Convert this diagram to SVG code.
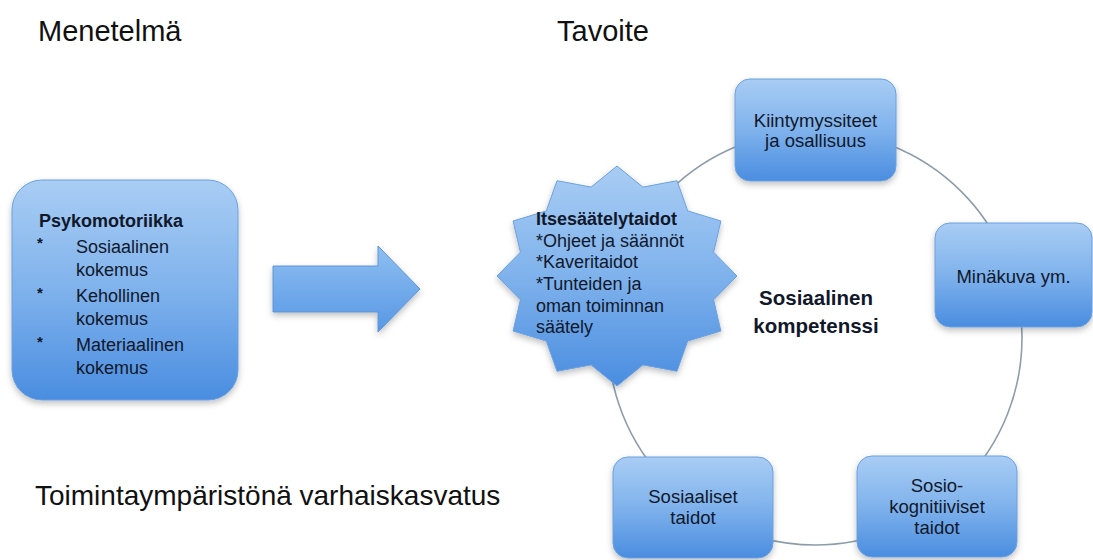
<svg xmlns="http://www.w3.org/2000/svg" width="1093" height="560" viewBox="0 0 1093 560">
  <defs>
    <linearGradient id="blueGrad" x1="0" y1="0" x2="0" y2="1">
      <stop offset="0" stop-color="#a9cdf4"/>
      <stop offset="0.5" stop-color="#7fb2ec"/>
      <stop offset="1" stop-color="#4a8de0"/>
    </linearGradient>
    <linearGradient id="arrowGrad" x1="0" y1="0" x2="0" y2="1">
      <stop offset="0" stop-color="#8fbff2"/>
      <stop offset="1" stop-color="#5797e4"/>
    </linearGradient>
    <filter id="shadow" x="-10%" y="-10%" width="120%" height="125%">
      <feDropShadow dx="0" dy="3" stdDeviation="3" flood-color="#000" flood-opacity="0.25"/>
    </filter>
  </defs>
  <style>
    .node { fill: url(#blueGrad); stroke: #6aa0e0; stroke-width: 1; filter: url(#shadow); }
    .title { font-family: "Liberation Sans", Arial, sans-serif; font-size: 29px; fill: #111; }
    .lbl { font-family: "Liberation Sans", Arial, sans-serif; font-size: 18.5px; fill: #10182a; text-anchor: middle; }
    .txt { font-family: "Liberation Sans", Arial, sans-serif; font-size: 18px; fill: #10182a; }
    .bold { font-weight: bold; }
    .conn { fill: none; stroke: #8d9cab; stroke-width: 1.6; }
  </style>

  <rect width="1093" height="560" fill="#ffffff"/>

  <!-- titles -->
  <text class="title" x="38" y="41">Menetelmä</text>
  <text class="title" x="557" y="41">Tavoite</text>
  <text class="title" x="35" y="505" style="font-size:28px">Toimintaympäristönä varhaiskasvatus</text>

  <!-- connectors -->
  <g id="connectors">
    <circle class="conn" cx="815" cy="338" r="207"/>
  </g>

  <!-- method box -->
  <g id="psykomotoriikka">
    <rect class="node" x="12" y="180" width="226" height="220" rx="30" ry="30"/>
    <text class="txt bold" x="39" y="227">Psykomotoriikka</text>
    <text class="txt bold" x="37" y="248" style="font-size:15px">*</text>
    <text class="txt" x="76" y="253">Sosiaalinen</text>
    <text class="txt" x="76" y="276">kokemus</text>
    <text class="txt bold" x="37" y="298" style="font-size:15px">*</text>
    <text class="txt" x="76" y="302">Kehollinen</text>
    <text class="txt" x="76" y="325">kokemus</text>
    <text class="txt bold" x="37" y="347" style="font-size:15px">*</text>
    <text class="txt" x="76" y="351">Materiaalinen</text>
    <text class="txt" x="76" y="374">kokemus</text>
  </g>

  <!-- arrow -->
  <g id="arrow">
    <path d="M273,266 L378,266 L378,246 L420,289 L378,332 L378,312 L273,312 Z" fill="url(#arrowGrad)" stroke="#5f95d8" stroke-width="1" filter="url(#shadow)"/>
  </g>

  <!-- star -->
  <g id="itsesaatelytaidot">
    <polygon class="node" points="617,166 642.9,187.1 677,180.7 687.7,210.9 720.9,221 713.6,252.2 737,276 713.6,299.8 720.9,331 687.7,341.1 677,371.3 642.9,364.9 617,386 591.1,364.9 557,371.3 546.3,341.1 513.1,331 520.4,299.8 497,276 520.4,252.2 513.1,221 546.3,210.9 557,180.7 591.1,187.1"/>
    <text class="txt bold" x="536" y="225">Itsesäätelytaidot</text>
    <text class="txt" x="536" y="247">*Ohjeet ja säännöt</text>
    <text class="txt" x="536" y="268">*Kaveritaidot</text>
    <text class="txt" x="536" y="290">*Tunteiden ja</text>
    <text class="txt" x="536" y="312">oman toiminnan</text>
    <text class="txt" x="536" y="333">säätely</text>
  </g>

  <!-- centre label -->
  <g id="sosiaalinen-kompetenssi">
    <text class="lbl bold" x="816" y="305" style="font-size:20.5px">Sosiaalinen</text>
    <text class="lbl bold" x="816" y="333" style="font-size:20.5px">kompetenssi</text>
  </g>

  <g id="kiintymyssiteet">
    <rect class="node" x="735" y="79" width="161" height="102" rx="15" ry="15"/>
    <text class="lbl" x="815.5" y="127">Kiintymyssiteet</text>
    <text class="lbl" x="815.5" y="147">ja osallisuus</text>
  </g>

  <g id="minakuva">
    <rect class="node" x="935" y="223" width="157" height="104" rx="15" ry="15"/>
    <text class="lbl" x="1013.5" y="283">Minäkuva ym.</text>
  </g>

  <g id="sosiokognitiiviset">
    <rect class="node" x="857" y="456" width="160" height="101" rx="15" ry="15"/>
    <text class="lbl" x="937" y="492">Sosio-</text>
    <text class="lbl" x="937" y="513">kognitiiviset</text>
    <text class="lbl" x="937" y="534">taidot</text>
  </g>

  <g id="sosiaaliset-taidot">
    <rect class="node" x="613" y="457" width="160" height="101" rx="15" ry="15"/>
    <text class="lbl" x="693" y="503">Sosiaaliset</text>
    <text class="lbl" x="693" y="524">taidot</text>
  </g>
</svg>
